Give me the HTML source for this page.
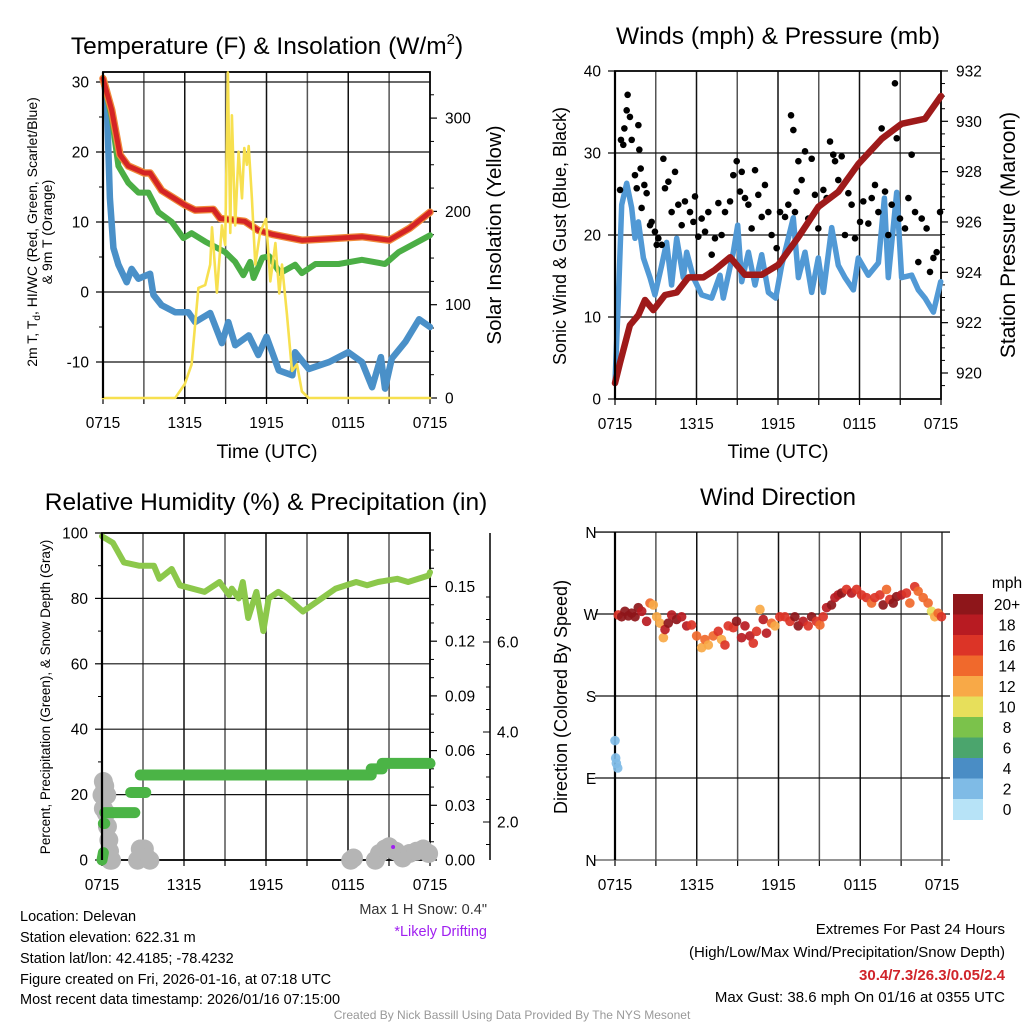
<!DOCTYPE html>
<html><head><meta charset="utf-8"><style>
html,body{margin:0;padding:0;background:#fff;}
svg{display:block;font-family:"Liberation Sans",Arial,sans-serif;}
</style></head><body>
<svg id="chart" width="1024" height="1024" viewBox="0 0 1024 1024" xmlns="http://www.w3.org/2000/svg">
<rect width="1024" height="1024" fill="#fff"/>
<text x="267" y="54" font-size="24.5" text-anchor="middle">Temperature (F) &amp; Insolation (W/m<tspan font-size="15" dy="-10">2</tspan><tspan dy="10">)</tspan></text>
<text x="778" y="44" font-size="24.5" text-anchor="middle">Winds (mph) &amp; Pressure (mb)</text>
<text x="266" y="510" font-size="24.5" text-anchor="middle">Relative Humidity (%) &amp; Precipitation (in)</text>
<text x="778" y="505" font-size="24" text-anchor="middle">Wind Direction</text>
<text x="267" y="458" font-size="19.5" text-anchor="middle">Time (UTC)</text>
<text x="778" y="458" font-size="19.5" text-anchor="middle">Time (UTC)</text>
<text transform="translate(37,232) rotate(-90)" font-size="14" text-anchor="middle">2m T, T<tspan font-size="10" dy="3">d</tspan><tspan dy="-3">,  HI/WC (Red, Green, Scarlet/Blue)</tspan></text>
<text transform="translate(52,232) rotate(-90)" font-size="14" text-anchor="middle">&amp; 9m T (Orange)</text>
<text transform="translate(501,235) rotate(-90)" font-size="20.5" text-anchor="middle">Solar Insolation (Yellow)</text>
<text transform="translate(566,236) rotate(-90)" font-size="18" text-anchor="middle">Sonic Wind &amp; Gust (Blue, Black)</text>
<text transform="translate(1015,235) rotate(-90)" font-size="21" text-anchor="middle">Station Pressure (Maroon)</text>
<text transform="translate(50,697) rotate(-90)" font-size="13.5" text-anchor="middle">Percent, Precipitation (Green), &amp; Snow Depth (Gray)</text>
<text transform="translate(567,697) rotate(-90)" font-size="18" text-anchor="middle">Direction (Colored By Speed)</text>
<text x="1007" y="588" font-size="15.5" text-anchor="middle">mph</text>
<g font-size="14.5">
<text x="20" y="921">Location: Delevan</text>
<text x="20" y="942">Station elevation: 622.31 m</text>
<text x="20" y="963">Station lat/lon: 42.4185; -78.4232</text>
<text x="20" y="984">Figure created on Fri, 2026-01-16, at 07:18 UTC</text>
<text x="20" y="1004">Most recent data timestamp: 2026/01/16 07:15:00</text>
</g>
<text x="487" y="914" font-size="14.5" text-anchor="end" fill="#333">Max 1 H Snow: 0.4"</text>
<text x="487" y="936" font-size="14.5" text-anchor="end" fill="#a020f0">*Likely Drifting</text>
<g font-size="15" text-anchor="end">
<text x="1005" y="934">Extremes For Past 24 Hours</text>
<text x="1005" y="957">(High/Low/Max Wind/Precipitation/Snow Depth)</text>
<text x="1005" y="980" fill="#d0242a" font-weight="bold">30.4/7.3/26.3/0.05/2.4</text>
<text x="1005" y="1002">Max Gust: 38.6 mph On 01/16 at 0355 UTC</text>
</g>
<text x="512" y="1019" font-size="12" text-anchor="middle" fill="#999">Created By Nick Bassill Using Data Provided By The NYS Mesonet</text>
</svg>
<script>
// ---------- data ----------
const timeLabels = ["0715","1315","1915","0115","0715"];
const redHours = [0,0.64,1.25,1.86,3.04,3.46,4.31,6.03,6.76,8.1,8.6,10.4,11.4,12.5,14.6,16.6,19.0,21.0,22.5,24];
const redTemp  = [30.5,26,19.6,18,17,17,14.5,12.4,11.7,11.8,10.5,10.1,8.8,8.2,7.4,7.6,7.9,7.4,9.1,11.4];
const greenHours = [0,0.64,1.13,1.86,2.6,3.33,4.07,5.05,5.9,6.5,7.5,8.97,9.7,10.3,10.8,11.05,11.7,12.2,13,14.1,14.6,15.6,17.3,19,20.7,21.7,24];
const greenTemp  = [30.5,25,18,15.6,14.2,14.2,11.4,10,7.7,8.4,7.2,5.7,4.3,2.4,4.3,2,4.9,5.1,2.7,3.9,2.7,4,4,4.6,4,5.7,8.1];
const blueHours = [0,0.27,0.51,0.76,1.13,1.74,2.1,2.6,3.46,3.7,4.31,5.3,6.27,6.76,7.87,8.73,9.2,9.7,10.7,11.4,12.0,12.9,13.9,14.1,15.1,16.6,18.0,19.0,19.75,20.4,20.7,21.2,22.2,23.2,24];
const blueTemp  = [30.5,27.7,13.4,6.3,3.9,1.4,3.3,1.9,2.6,-0.4,-1.9,-2.9,-2.9,-4.3,-3,-7.3,-4.3,-7.6,-6.2,-9,-6.4,-11.2,-11.9,-8.6,-11,-10,-8.6,-10,-13.6,-9.3,-13.8,-9.5,-7.1,-3.9,-5];
const solarHours = [0,5.3,6.0,6.5,7.0,7.5,7.87,8.0,8.36,8.73,8.97,9.17,9.34,9.46,9.7,9.95,10.2,10.37,10.56,10.69,10.93,11.18,11.54,11.96,12.28,12.65,12.94,13.14,13.5,13.87,14.24,14.6,15.1,24];
const solarVals  = [0,0,15,36,118,121,143,183,113,185,164,349,177,303,185,264,214,268,250,270,214,143,178,192,125,166,112,143,90,29,36,7,0,0];
const windHours = [0,0.25,0.49,0.86,1.23,1.47,1.72,2.09,2.58,2.94,3.44,3.8,4.17,4.54,5.03,5.28,5.77,6.38,7.12,7.73,7.97,8.71,9.03,9.33,9.82,10.31,10.8,11.29,11.83,12.27,13.13,13.5,13.99,14.48,14.97,15.34,15.95,16.44,16.93,17.55,17.91,18.65,19.39,19.83,20.12,20.74,21.1,21.84,22.33,22.82,23.44,23.98];
const windSpeed = [2,12.3,23.7,26.3,23.3,19.6,21.6,17.2,14.8,12.7,16.3,19.1,13.9,19.6,14.8,17.9,14.8,12.7,12.3,15.1,12.3,17.9,21.2,14.3,17.9,13.9,17.6,13,12.3,16.3,22.1,14.8,17.9,13,17.2,13,20.9,16.3,14.8,13.3,17.2,15.1,16.6,24.5,14.8,25.2,14.8,15.1,13.3,12.3,10.6,14.3];
const pressHours = [0,0.37,1.1,1.72,2.21,2.82,3.68,4.54,5.4,6.5,7.36,8.47,9.57,10.8,12.02,13.5,14.97,16.44,17.91,19.63,21.1,22.82,24];
const pressVals  = [919.6,920.4,921.9,922.3,922.9,922.5,923.1,923.2,923.8,923.8,924.1,924.6,923.9,923.9,924.3,925.4,926.6,927.2,928.3,929.3,929.9,930.1,931.0];
const gustHours = [0.37,0.44,0.61,0.69,0.86,0.93,1.1,1.23,1.47,1.6,1.72,1.79,1.89,1.96,2.16,2.33,2.58,2.7,2.94,3.07,3.19,3.44,3.56,3.68,3.93,4.17,4.42,4.66,4.91,5.15,5.52,5.77,5.89,6.13,6.38,6.63,6.87,7.12,7.36,7.61,7.85,8.1,8.47,8.71,8.96,9.2,9.33,9.57,9.82,10.06,10.31,10.55,10.8,11.04,11.29,11.53,11.9,12.15,12.52,12.76,12.96,13.13,13.25,13.37,13.5,13.74,13.99,14.23,14.48,14.72,14.97,15.34,15.58,15.83,16.07,16.2,16.44,16.69,16.93,17.18,17.42,17.67,18.04,18.28,18.65,18.9,19.14,19.39,19.63,19.88,20.12,20.37,20.61,20.74,20.98,21.35,21.6,21.84,22.09,22.33,22.58,22.94,23.19,23.44,23.68,23.93];
const gustSpeed = [25.5,31.6,31,33,35.2,37.1,34.4,31.6,27.3,25.7,33.4,30.4,28.1,23.3,26.1,25.1,21.2,21.6,20.4,18.8,19.6,18.8,29.3,25.7,26.5,22.8,27.7,23.7,21.2,24.1,22.8,21.6,24.7,19.8,22,20.4,22.8,17.6,19.6,23.9,20,22.8,24.1,27.3,29,25.3,27.7,24.5,23.7,20.8,27.9,24.9,22.2,26.1,22.8,20,18.4,22.8,22.2,23.7,34.6,32.8,22.8,25.3,29,26.7,30.2,22,29.3,24.9,20.8,25.5,24.5,31.4,29.8,29,26.7,29.6,20,25.1,23.7,19.6,21.6,24.1,21.4,24.5,26.1,22.8,33,25.3,20,23.7,38.5,31.8,22,20.8,24.5,29.8,22.8,16.7,22,20.8,15.5,17.2,17.9,22.8];
const rhHours = [0,0.8,1.6,2.7,3.8,4.2,5.1,5.7,7.5,8.6,9.3,9.5,10.0,10.3,10.7,11.3,11.8,12.2,12.9,13.6,14.7,17.1,18.6,19.4,20.2,21.6,22.4,23.9,24];
const rhVals   = [99,97,91,90,90,86,89,84,82,85,81,83,80,85,74,82,70,80,82,80,76,83,85,84,85,86,85,87,88];
const precipHours = [0,0.1,0.1,0.2,0.2,2.4,2.1,3.2,2.8,19.7,19.7,20.5,20.5,24];
const precipVals  = [0,0.004,0.02,0.02,0.026,0.026,0.037,0.037,0.0466,0.0466,0.05,0.05,0.053,0.053];
const snowHours = [0.0,0.1,0.2,0.35,0.1,0.3,0.4,0.5,0.55,0.6,0.7,2.6,2.8,3.1,3.3,3.5,18.2,18.4,20.0,20.3,20.7,21.0,21.5,22.0,22.5,23.0,23.5,23.9];
const snowVals  = [2.6,2.9,2.8,2.6,2.3,2.2,1.9,1.6,1.35,1.15,1.15,1.15,1.4,1.4,1.2,1.15,1.15,1.2,1.15,1.3,1.4,1.45,1.35,1.2,1.3,1.35,1.4,1.3];
const dirHours = [0,0.05,0.1,0.2,0.24,0.49,0.73,0.98,1.22,1.47,1.71,1.96,2.32,2.57,2.81,3.06,3.3,3.55,3.67,3.91,4.16,4.52,4.89,5.26,5.62,5.99,6.36,6.6,6.85,7.21,7.58,7.82,8.07,8.31,8.68,8.92,9.29,9.54,9.9,10.15,10.39,10.64,10.88,11.12,11.49,11.74,12.1,12.47,12.84,13.2,13.45,13.81,14.18,14.43,14.79,15.04,15.28,15.53,15.89,16.14,16.38,16.63,16.99,17.36,17.73,18.09,18.46,18.83,19.07,19.44,19.68,19.93,20.17,20.42,20.66,21.03,21.39,21.64,22.0,22.25,22.62,22.98,23.23,23.47,23.72,23.96];
const dirDeg = [131,112,106,101,269,267,273,268,271,267,277,273,262,282,280,267,260,244,253,260,269,264,267,257,258,246,233,242,236,246,251,242,236,257,255,262,244,257,246,238,251,275,264,249,260,257,267,267,262,267,257,262,257,267,262,258,267,277,280,288,291,293,297,293,297,291,288,282,288,291,280,297,286,282,289,291,293,282,300,295,288,282,273,267,271,267];
const dirSpeed = [3,3,3,3,17,20,20,20,20,20,20,18,18,14,13,13,12,12,18,20,18,20,18,18,16,14,12,14,13,14,16,13,17,16,16,20,18,18,18,17,16,13,18,18,14,12,16,17,16,20,20,18,16,20,16,14,16,18,20,18,18,20,16,18,16,16,16,14,16,16,20,14,16,20,20,18,16,14,16,14,14,14,10,12,14,16];
const speedLevels = ["0","2","4","6","8","10","12","14","16","18","20+"];
const speedColors = ["#b7e3f7","#7fbbe6","#4a8dc5","#4ba56d","#7bc24b","#e7df5b","#f8a947","#f0692c","#dc3427","#b81b22","#8e161a"];
const tempTicks = [30,20,10,0,-10];
const solarTicks = [0,100,200,300];
const windTicks = [0,10,20,30,40];
const pressTicks = [920,922,924,926,928,930,932];
const rhTicks = [0,20,40,60,80,100];
const precipTicks = [0,0.03,0.06,0.09,0.12,0.15];
const snowTicks = [2,4,6];
const dirTicks = [0,90,180,270,360];
const dirNames = ["N","E","S","W","N"];

// ---------- helpers ----------
const NS = "http://www.w3.org/2000/svg";
const svg = document.getElementById('chart');
const FS = 15.5;
function mk(tag, attrs, parent){ const e=document.createElementNS(NS,tag); for(const k in attrs) e.setAttribute(k,attrs[k]); (parent||svg).appendChild(e); return e; }
function pts(xs, ys, fx, fy){ return xs.map((h,i)=>fx(h).toFixed(1)+','+fy(ys[i]).toFixed(1)).join(' '); }

const P1={x0:103,x1:430,y0:72,y1:398}, P2={x0:615,x1:941,y0:71,y1:399}, P3={x0:102,x1:430,y0:533,y1:860}, P4={x0:615,x1:942,y0:532,y1:860};
const sx = P => h => P.x0 + h*(P.x1-P.x0)/24;
const yTemp = v => 292 - v*7;
const ySolar = v => 398 - v*0.933;
const yWind = v => 399 - v*8.2;
const yPress = v => 373 - (v-920)*25.17;
const yRH = v => 860 - v*3.27;
const yPrecip = v => 860 - v/0.03*54.7;
const ySnow = v => 912 - v*45;
const yDir = v => 860 - v*0.911;

function frame(P, name, box){
  const g = mk('g',{});
  
  
  const fx = sx(P);
  for(let h=3; h<24; h+=3){ mk('line',{x1:fx(h),x2:fx(h),y1:P.y0,y2:P.y1,stroke:(h%6?'#555':'#111'),'stroke-width':1.5},g); }
  if(box){
    mk('rect',{x:P.x0,y:P.y0,width:P.x1-P.x0,height:P.y1-P.y0,fill:'none',stroke:'#000','stroke-width':1.8},g);
  } else {
    mk('line',{x1:P.x1,x2:P.x1,y1:P.y0,y2:P.y1,stroke:'#666','stroke-width':2},g);
  }
  for(let h=0; h<=24; h+=3){ mk('line',{x1:fx(h),x2:fx(h),y1:P.y1,y2:P.y1+6,stroke:'#000','stroke-width':1.2},g); }
  timeLabels.forEach((t,i)=>{
    const tx = mk('text',{x:fx(i*6),y:P.y1+30,'font-size':FS,'text-anchor':'middle'});
    
    
    tx.textContent=t;
  });
  return g;
}
function hgrid(P, g, ys){ ys.forEach(y=>mk('line',{x1:P.x0,x2:P.x1,y1:y,y2:y,stroke:'#111','stroke-width':1.2},g)); }
function leftTicks(P, vals, fy, name, fmt, labelX){
  vals.forEach(v=>{
    mk('line',{x1:P.x0-7,x2:P.x0,y1:fy(v),y2:fy(v),stroke:'#000','stroke-width':1.2});
    const t=mk('text',{x:labelX||P.x0-14,y:fy(v)+5.5,'font-size':FS,'text-anchor':'end'});
    
    
    t.textContent = fmt?fmt(v):v;
  });
}
function rightTicks(x, vals, fy, name, fmt){
  vals.forEach(v=>{
    mk('line',{x1:x,x2:x+7,y1:fy(v),y2:fy(v),stroke:'#000','stroke-width':1.2});
    const t=mk('text',{x:x+15,y:fy(v)+5.5,'font-size':FS});
    
    
    t.textContent = fmt?fmt(v):v;
  });
}
function poly(xs, ys, fx, fy, color, w, name){
  const p = mk('polyline',{points:pts(xs,ys,fx,fy),fill:'none',stroke:color,'stroke-width':w,'stroke-linejoin':'round','stroke-linecap':'round'});
  
  
  return p;
}

// ---------- panel 1 ----------
{ const P=P1, fx=sx(P);
  const g=frame(P,'temp',true); hgrid(P,g,tempTicks.map(yTemp));
  leftTicks(P,tempTicks,yTemp,'temp-y');
  [25,15,5,-5].forEach(v=>mk('line',{x1:P.x0-4,x2:P.x0,y1:yTemp(v),y2:yTemp(v),stroke:'#000'}));
  rightTicks(P.x1,solarTicks,ySolar,'solar-y');
  for(let v=25; v<340; v+=25){ if(v%100) mk('line',{x1:P.x1,x2:P.x1+4,y1:ySolar(v),y2:ySolar(v),stroke:'#000'}); }
  poly(blueHours,blueTemp,fx,yTemp,'#4a90c8',6.5,'dewpoint-line');
  poly(greenHours,greenTemp,fx,yTemp,'#4bae45',6,'windchill-line');
  poly(redHours,redTemp,fx,yTemp,'#f08a3a',7.5,'temp-9m-line');
  poly(redHours,redTemp,fx,yTemp,'#d42425',5,'temp-2m-line');
  poly(solarHours,solarVals,fx,ySolar,'#f7e04f',2.6,'solar-line');
}
// ---------- panel 2 ----------
{ const P=P2, fx=sx(P);
  const g=frame(P,'wind',true); hgrid(P,g,windTicks.map(yWind));
  leftTicks(P,windTicks,yWind,'wind-y');
  rightTicks(P.x1,pressTicks,yPress,'pressure-y');
  for(let v=919.5; v<932; v+=0.5){ if(v%2) mk('line',{x1:P.x1,x2:P.x1+4,y1:yPress(v),y2:yPress(v),stroke:'#000'}); }
  poly(windHours,windSpeed,fx,yWind,'#5199d5',5.5,'wind-speed-line');
  gustHours.forEach((h,i)=>{
    const c=mk('circle',{cx:fx(h),cy:yWind(gustSpeed[i]),r:3.3,fill:'#000'});
    
    
  });
  poly(pressHours,pressVals,fx,yPress,'#9e1a1a',6.5,'pressure-line');
}
// ---------- panel 3 ----------
{ const P=P3, fx=sx(P);
  const g=frame(P,'rh',true); hgrid(P,g,[20,40,60,80].map(yRH));
  leftTicks(P,rhTicks,yRH,'rh-y');
  [10,30,50,70,90].forEach(v=>mk('line',{x1:P.x0-4,x2:P.x0,y1:yRH(v),y2:yRH(v),stroke:'#000'}));
  rightTicks(P.x1,precipTicks,yPrecip,'precip-y',v=>v.toFixed(2));
  for(let v=0.01; v<0.18; v+=0.01){ if(Math.round(v*100)%3) mk('line',{x1:P.x1,x2:P.x1+4,y1:yPrecip(v),y2:yPrecip(v),stroke:'#000'}); }
  const ax=mk('line',{x1:490,x2:490,y1:533,y2:860,stroke:'#000','stroke-width':1.5});
  
  
  for(let v=1.5; v<7.5; v+=0.5){ mk('line',{x1:486,x2:490,y1:ySnow(v),y2:ySnow(v),stroke:'#000'}); }
  snowTicks.forEach(v=>{
    mk('line',{x1:483,x2:490,y1:ySnow(v),y2:ySnow(v),stroke:'#000'});
    const t=mk('text',{x:497,y:ySnow(v)+5.5,'font-size':FS});
    
    
    t.textContent=v.toFixed(1);
  });
  snowHours.forEach((h,i)=>{
    const c=mk('circle',{cx:fx(h),cy:ySnow(snowVals[i]),r:9.5,fill:'#b5b5b5'});
    
    
  });
  const dr=mk('circle',{cx:fx(21.3),cy:847,r:2,fill:'#a020f0'});
  
  
  for(let i=0;i<precipHours.length;i+=2){
    const s=mk('line',{x1:fx(precipHours[i]),y1:yPrecip(precipVals[i]),x2:fx(precipHours[i+1]),y2:yPrecip(precipVals[i+1]),stroke:'#4bb446','stroke-width':11,'stroke-linecap':'round'});
    
    
  }
  poly(rhHours,rhVals,fx,yRH,'#8cc84b',6,'rh-line');
}
// ---------- panel 4 ----------
{ const P=P4, fx=sx(P);
  const g=frame(P,'direction',false);
  dirTicks.forEach((v,i)=>{
    mk('line',{x1:P.x0-20,x2:P.x1+8,y1:yDir(v),y2:yDir(v),stroke:(i==0?'#555':'#111'),'stroke-width':1.3},g);
    const t=mk('text',{x:591,y:yDir(v)+6,'font-size':FS,'text-anchor':'middle'});
    
    
    t.textContent=dirNames[i];
  });
  mk('line',{x1:P.x0,x2:P.x0,y1:P.y0,y2:P.y1,stroke:'#000','stroke-width':2.2});
  const colorIdx = s => Math.min(10, Math.floor(s/2));
  dirHours.forEach((h,i)=>{
    const c=mk('circle',{cx:fx(h),cy:yDir(dirDeg[i]),r:4.8,fill:speedColors[colorIdx(dirSpeed[i])],'fill-opacity':0.92});
    
    
  });
  const bx=953, bw=30, btop=594, bh=20.5;
  speedLevels.forEach((lab,i)=>{
    const k = speedLevels.length-1-i;
    const r=mk('rect',{x:bx,y:btop+i*bh,width:bw,height:bh+0.5,fill:speedColors[k]});
    
    
    const t=mk('text',{x:1007,y:btop+i*bh+16,'font-size':FS,'text-anchor':'middle'});
    
    
    t.textContent=speedLevels[k];
  });
}
[P1,P2,P3].forEach(P=>mk('line',{x1:P.x0,x2:P.x0,y1:P.y0,y2:P.y1,stroke:'#000','stroke-width':2.2}));
</script>
</body></html>
